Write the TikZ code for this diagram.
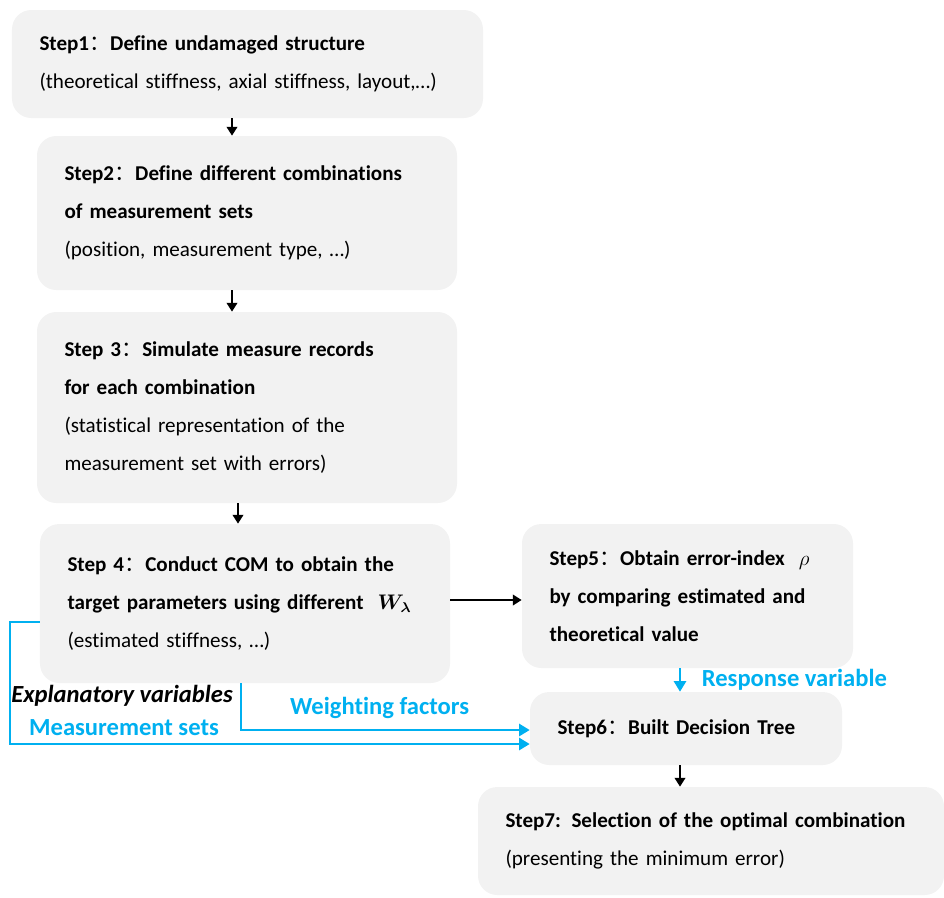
\documentclass[tikz,border=0pt]{standalone}
\usepackage{fontspec}
\setmainfont[Ligatures=NoCommon]{Carlito}
\newfontfamily\cjk{Noto Sans CJK SC}
\usepackage{amsmath,bm}
\usetikzlibrary{arrows.meta,positioning,calc}
\definecolor{stepgray}{HTML}{F2F2F2}
\definecolor{linkblue}{HTML}{00B0F0}
\newcommand{\wcolon}{{\cjk\mdseries ：}}

\begin{document}
\begin{tikzpicture}[
    >={Triangle[width=6pt,length=5pt]},
    stepbox/.style={fill=stepgray, rounded corners=11pt, inner xsep=0.55cm, align=left, font=\fontsize{12}{21.6}\selectfont},
    arrow/.style={->, line width=1.1pt},
    bluearrow/.style={->, line width=1.1pt, draw=linkblue, >={Triangle[width=7pt,length=6pt]}},
    tag/.style={font=\fontsize{14}{16}\selectfont\bfseries, text=linkblue}
]
\useasboundingbox (0,0) rectangle (18.88,-17.94);

% ---- Steps ----
\node[stepbox, text width=8.32cm, minimum height=2.16cm] (step1) at (4.95,-1.28) {\textbf{Step1\wcolon Define undamaged structure}\\(theoretical stiffness, axial stiffness, layout,…)};
\node[stepbox, text width=7.3cm, minimum height=3.08cm] (step2) at (4.94,-4.26) {\textbf{Step2\wcolon Define different combinations}\\\textbf{of measurement sets}\\(position, measurement type, …)};
\node[stepbox, text width=7.3cm, minimum height=3.82cm] (step3) at (4.94,-8.15) {\textbf{Step 3\wcolon Simulate measure records}\\\textbf{for each combination}\\(statistical representation of the\\measurement set with errors)};
\node[stepbox, text width=7.1cm, minimum height=3.18cm] (step4) at (4.9,-12.07) {\textbf{Step 4\wcolon Conduct COM to obtain the}\\\mbox{\textbf{target parameters using different} \ $\bm{W}_{\bm{\lambda}}$}\\(estimated stiffness, …)};
\node[stepbox, text width=5.52cm, minimum height=2.88cm] (step5) at (13.75,-11.92) {\textbf{Step5\wcolon Obtain error-index} \ $\rho$\\\textbf{by comparing estimated and}\\\textbf{theoretical value}};
\node[stepbox, text width=5.14cm, minimum height=1.46cm] (step6) at (13.72,-14.57) {\textbf{Step6\wcolon Built Decision Tree}};
\node[stepbox, text width=8.22cm, minimum height=2.16cm] (step7) at (14.22,-16.82) {\mbox{\textbf{Step7: Selection of the optimal combination}}\\(presenting the minimum error)};

% ---- Main flow ----
\draw[arrow] ([xshift=-3.1mm]step1.south) -- ([xshift=-3.1mm]step1.south |- step2.north);
\draw[arrow] ([xshift=-3mm]step2.south) -- ([xshift=-3mm]step2.south |- step3.north);
\draw[arrow] ([xshift=-1.8mm]step3.south) -- ([xshift=-1.8mm]step3.south |- step4.north);
\draw[arrow] ([yshift=-0.08cm]step5.west -| step4.east) -- ([yshift=-0.08cm]step5.west);
\draw[arrow] ([xshift=-1.2mm]step6.south) -- ([xshift=-1.2mm]step6.south |- step7.north);

% ---- Decision tree inputs ----
\draw[bluearrow] ([xshift=-1.5mm]step5.south) -- ([xshift=-1.5mm]step5.south |- step6.north)
    node[tag, midway, right=0.3cm] {Response variable};
\draw[bluearrow] ([xshift=-0.8mm]step4.south) |- ([yshift=-0.03cm]step6.west)
    node[tag, pos=0.74, above=0.1cm] {Weighting factors};
\draw[bluearrow] ([yshift=-0.37cm]step4.west) -- ++(-0.6,0) |- ([yshift=-0.31cm]step6.west);

\node[font=\fontsize{14}{16}\selectfont\bfseries\itshape] (explan) at (2.44,-13.92) {Explanatory variables};
\node[tag] (meas) at (2.48,-14.56) {Measurement sets};

\end{tikzpicture}
\end{document}
